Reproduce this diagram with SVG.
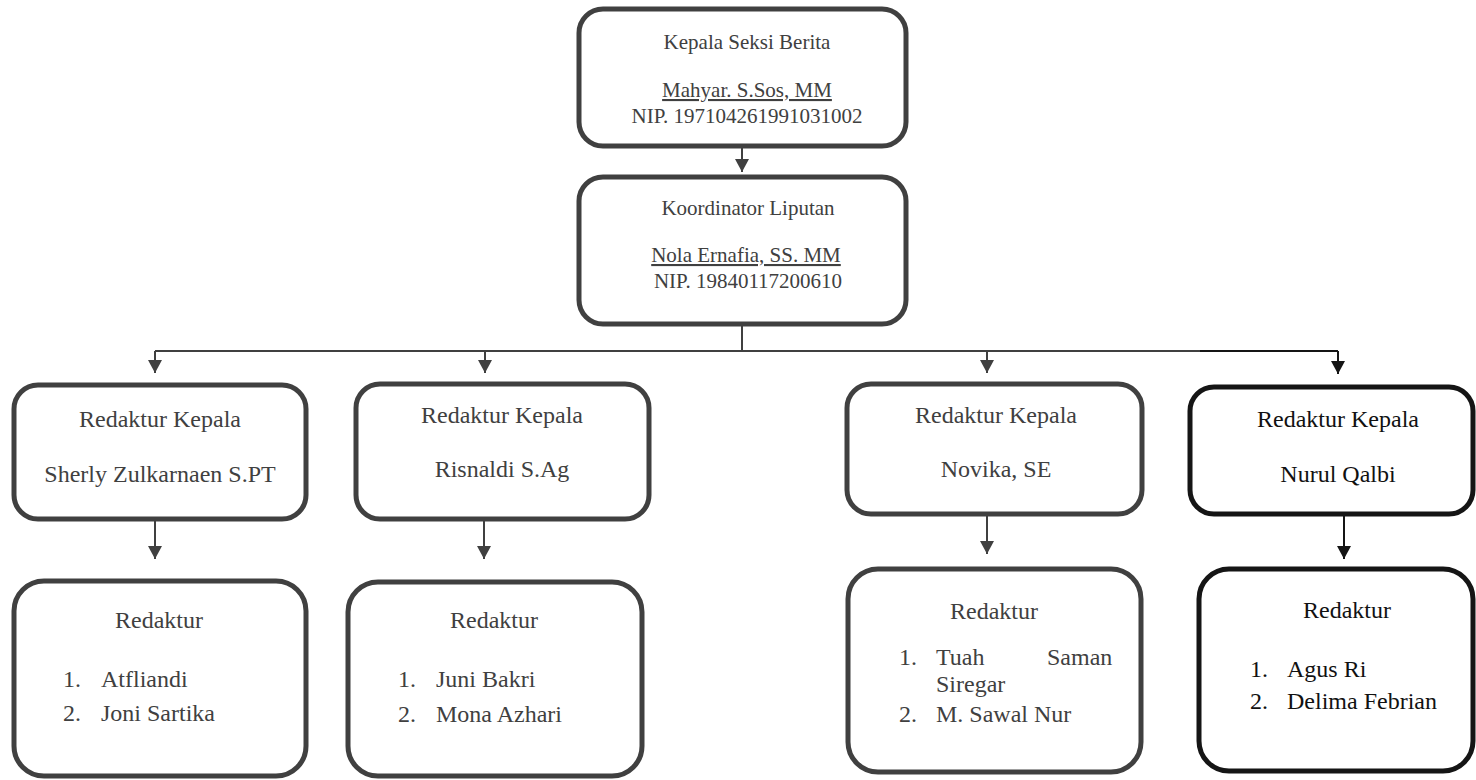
<svg xmlns="http://www.w3.org/2000/svg" width="1476" height="780" viewBox="0 0 1476 780" font-family="'Liberation Serif', 'Times New Roman', Tinos, 'DejaVu Serif', serif">
<style>
  .box { fill: #ffffff; stroke: #404040; stroke-width: 5; }
  .boxk { fill: #ffffff; stroke: #151515; stroke-width: 5; }
  text { font-family: 'Liberation Serif', 'Times New Roman', Tinos, 'DejaVu Serif', serif; }
  .t { fill: #404040; }
  .tk { fill: #111111; }
  .s21 { font-size: 21px; }
  .s24 { font-size: 24px; }
  .mid { text-anchor: middle; }
  .ln { stroke: #404040; stroke-width: 2; fill: none; }
  .lnk { stroke: #151515; stroke-width: 2; fill: none; }
</style>
<defs>
  <marker id="ah" markerUnits="userSpaceOnUse" markerWidth="14" markerHeight="14" viewBox="0 0 14 14" refX="13" refY="7" orient="auto">
    <path d="M0,0 L13,7 L0,14 z" fill="#404040"/>
  </marker>
  <marker id="ahk" markerUnits="userSpaceOnUse" markerWidth="14" markerHeight="14" viewBox="0 0 14 14" refX="13" refY="7" orient="auto">
    <path d="M0,0 L13,7 L0,14 z" fill="#151515"/>
  </marker>
</defs>
<rect width="1476" height="780" fill="#ffffff"/>

<g id="connectors">
  <line class="ln" x1="742" y1="147" x2="742" y2="172" marker-end="url(#ah)"/>
  <line class="ln" x1="742" y1="325" x2="742" y2="351"/>
  <line class="ln" x1="155" y1="351" x2="1200" y2="351"/>
  <line class="lnk" x1="1200" y1="351" x2="1338" y2="351"/>
  <line class="ln" x1="155" y1="351" x2="155" y2="373" marker-end="url(#ah)"/>
  <line class="ln" x1="485" y1="351" x2="485" y2="373" marker-end="url(#ah)"/>
  <line class="ln" x1="987" y1="351" x2="987" y2="373" marker-end="url(#ah)"/>
  <line class="lnk" x1="1338" y1="351" x2="1338" y2="374" marker-end="url(#ahk)"/>
  <line class="ln" x1="155" y1="520" x2="155" y2="559" marker-end="url(#ah)"/>
  <line class="ln" x1="484" y1="520" x2="484" y2="559" marker-end="url(#ah)"/>
  <line class="ln" x1="987" y1="515" x2="987" y2="554" marker-end="url(#ah)"/>
  <line class="lnk" x1="1344" y1="515" x2="1344" y2="559" marker-end="url(#ahk)"/>
</g>

<g id="kepala-seksi">
  <rect class="box" x="579" y="9" width="327" height="137" rx="24"/>
  <text class="t s21 mid" x="747" y="49">Kepala Seksi Berita</text>
  <text class="t s21 mid" x="747" y="97" text-decoration="underline">Mahyar. S.Sos, MM</text>
  <text class="t s21 mid" x="747" y="123">NIP. 197104261991031002</text>
</g>

<g id="koordinator">
  <rect class="box" x="579" y="177" width="327" height="147" rx="24"/>
  <text class="t s21 mid" x="748" y="215">Koordinator Liputan</text>
  <text class="t s21 mid" x="746" y="262" text-decoration="underline">Nola Ernafia, SS. MM</text>
  <text class="t s21 mid" x="748" y="288">NIP. 19840117200610</text>
</g>

<g id="rk-sherly">
  <rect class="box" x="14" y="385" width="292" height="134" rx="24"/>
  <text class="t s24 mid" x="160" y="427">Redaktur Kepala</text>
  <text class="t s24 mid" x="160" y="482">Sherly Zulkarnaen S.PT</text>
</g>

<g id="rk-risnaldi">
  <rect class="box" x="356" y="384" width="293" height="135" rx="24"/>
  <text class="t s24 mid" x="502" y="423">Redaktur Kepala</text>
  <text class="t s24 mid" x="502" y="477">Risnaldi S.Ag</text>
</g>

<g id="rk-novika">
  <rect class="box" x="847" y="384" width="295" height="130" rx="24"/>
  <text class="t s24 mid" x="996" y="423">Redaktur Kepala</text>
  <text class="t s24 mid" x="996" y="477">Novika, SE</text>
</g>

<g id="rk-nurul">
  <rect class="boxk" x="1190" y="387" width="283" height="127" rx="24"/>
  <text class="tk s24 mid" x="1338" y="427">Redaktur Kepala</text>
  <text class="tk s24 mid" x="1338" y="482">Nurul Qalbi</text>
</g>

<g id="red-1">
  <rect class="box" x="14" y="581" width="292" height="195" rx="30"/>
  <text class="t s24 mid" x="159" y="628">Redaktur</text>
  <text class="t s24" x="63" y="687">1.</text>
  <text class="t s24" x="101" y="687">Atfliandi</text>
  <text class="t s24" x="63" y="721">2.</text>
  <text class="t s24" x="101" y="721">Joni Sartika</text>
</g>

<g id="red-2">
  <rect class="box" x="348" y="582" width="294" height="194" rx="30"/>
  <text class="t s24 mid" x="494" y="628">Redaktur</text>
  <text class="t s24" x="398" y="687">1.</text>
  <text class="t s24" x="436" y="687">Juni Bakri</text>
  <text class="t s24" x="398" y="722">2.</text>
  <text class="t s24" x="436" y="722">Mona Azhari</text>
</g>

<g id="red-3">
  <rect class="box" x="848" y="569" width="293" height="203" rx="30"/>
  <text class="t s24 mid" x="994" y="619">Redaktur</text>
  <text class="t s24" x="899" y="665">1.</text>
  <text class="t s24" y="665"><tspan x="936">Tuah</tspan><tspan x="1047">Saman</tspan><tspan x="936" y="692">Siregar</tspan></text>
  <text class="t s24" x="899" y="722">2.</text>
  <text class="t s24" x="936" y="722">M. Sawal Nur</text>
</g>

<g id="red-4">
  <rect class="boxk" x="1199" y="569" width="274" height="202" rx="30"/>
  <text class="tk s24 mid" x="1347" y="618">Redaktur</text>
  <text class="tk s24" x="1250" y="677">1.</text>
  <text class="tk s24" x="1287" y="677">Agus Ri</text>
  <text class="tk s24" x="1250" y="709">2.</text>
  <text class="tk s24" x="1287" y="709">Delima Febrian</text>
</g>
</svg>
